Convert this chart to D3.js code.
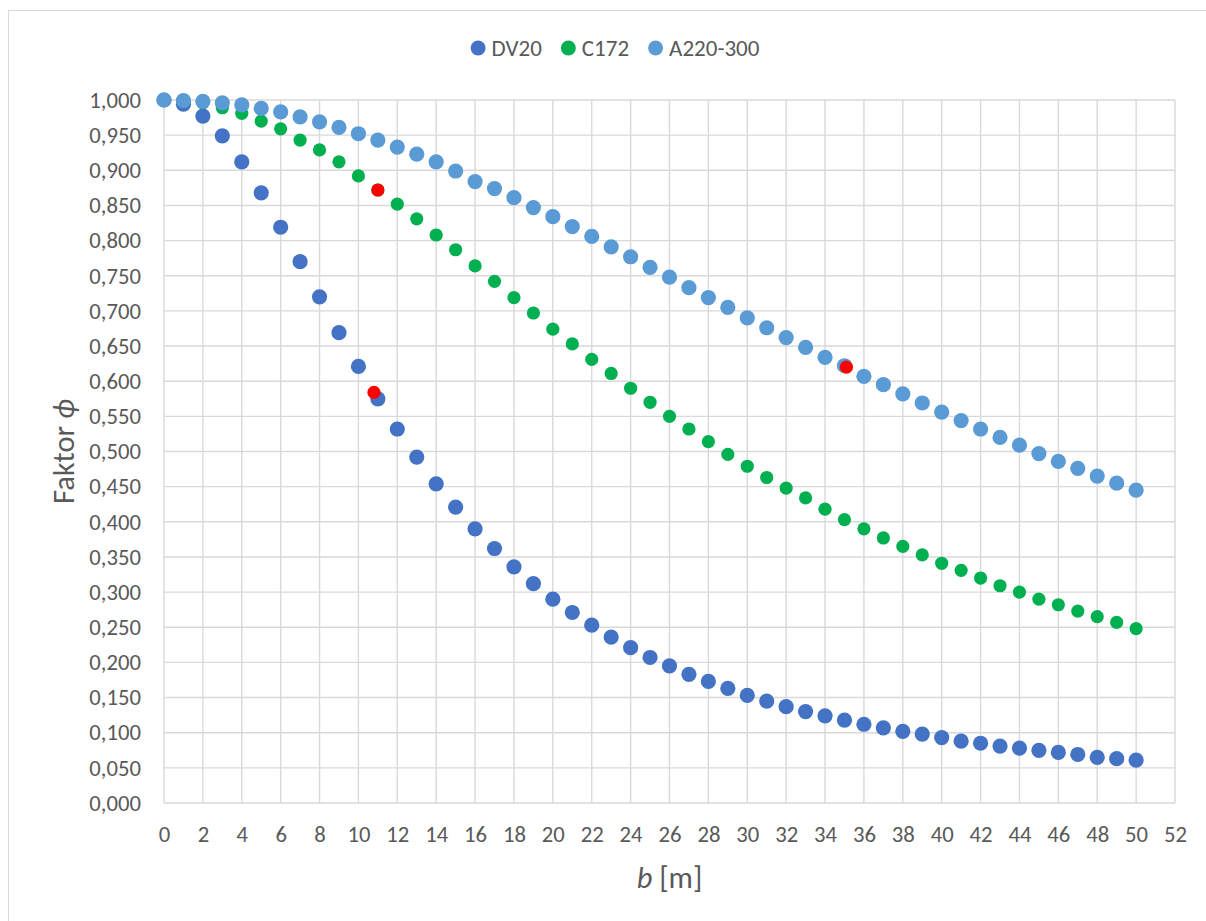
<!DOCTYPE html>
<html>
<head>
<meta charset="utf-8">
<script src="https://cdn.jsdelivr.net/npm/d3@7"></script>
<style>
  body { margin: 0; background: #fff; }
  svg text { font-family: Calibri, Carlito, "Liberation Sans", Arial, sans-serif; fill: #595959; }
</style>
</head>
<body>
<svg id="chart" width="1206" height="921"></svg>
<script>
// b [m] = 0..50 for all three series
const spans = d3.range(0, 51);

const dv20 = [
  1.000, 0.994, 0.977, 0.949, 0.912, 0.868, 0.819, 0.770, 0.720, 0.669,
  0.621, 0.575, 0.532, 0.492, 0.454, 0.421, 0.390, 0.362, 0.336, 0.312,
  0.290, 0.271, 0.253, 0.236, 0.221, 0.207, 0.195, 0.183, 0.173, 0.163,
  0.153, 0.145, 0.137, 0.130, 0.124, 0.118, 0.112, 0.107, 0.102, 0.098,
  0.093, 0.088, 0.085, 0.081, 0.078, 0.075, 0.072, 0.069, 0.065, 0.063,
  0.061
];

const c172 = [
  1.000, 0.998, 0.996, 0.989, 0.981, 0.970, 0.959, 0.943, 0.929, 0.912,
  0.892, 0.872, 0.852, 0.831, 0.808, 0.787, 0.764, 0.742, 0.719, 0.697,
  0.674, 0.653, 0.631, 0.611, 0.590, 0.570, 0.550, 0.532, 0.514, 0.496,
  0.479, 0.463, 0.448, 0.434, 0.418, 0.403, 0.390, 0.377, 0.365, 0.353,
  0.341, 0.331, 0.320, 0.309, 0.300, 0.290, 0.282, 0.273, 0.265, 0.257,
  0.248
];

const a220 = [
  1.000, 0.999, 0.998, 0.996, 0.993, 0.988, 0.983, 0.976, 0.969, 0.961,
  0.952, 0.943, 0.933, 0.923, 0.912, 0.899, 0.884, 0.874, 0.861, 0.847,
  0.834, 0.820, 0.806, 0.791, 0.777, 0.762, 0.748, 0.733, 0.719, 0.705,
  0.690, 0.676, 0.662, 0.648, 0.634, 0.622, 0.607, 0.595, 0.582, 0.569,
  0.556, 0.544, 0.532, 0.520, 0.509, 0.497, 0.486, 0.476, 0.465, 0.455,
  0.445
];

// red highlighted points (not in legend)
const markB   = [10.8, 11.0, 35.1];
const markPhi = [0.584, 0.872, 0.620];

const seriesNames  = ['DV20', 'C172', 'A220-300'];
const seriesColors = ['#4472C4', '#00B050', '#5B9BD5'];
const seriesRadius = [7.6, 6.6, 7.6];
const xTicks = d3.range(0, 53, 2);
const yTicks = d3.range(0, 21).map(i => i * 0.05);

const svg = d3.select('#chart');
const plot = { left: 164, right: 1175, top: 100, bottom: 803 };

// chart border
svg.append('rect')
  .attr('x', 8.5).attr('y', 10.5)
  .attr('width', 1300).attr('height', 1000)
  .attr('fill', 'none')
  .attr('stroke', '#D9D9D9');

const x = d3.scaleLinear().domain([0, 52]).range([plot.left, plot.right]);
const y = d3.scaleLinear().domain([0, 1]).range([plot.bottom, plot.top]);

// gridlines
svg.append('g')
  .selectAll('line.v')
  .data(xTicks)
  .enter().append('line')
  .attr('x1', d => x(d)).attr('x2', d => x(d))
  .attr('y1', plot.top).attr('y2', plot.bottom)
  .attr('stroke', '#D9D9D9').attr('stroke-width', 1.4);

svg.append('g')
  .selectAll('line.h')
  .data(yTicks)
  .enter().append('line')
  .attr('x1', plot.left).attr('x2', plot.right)
  .attr('y1', d => y(d)).attr('y2', d => y(d))
  .attr('stroke', '#D9D9D9').attr('stroke-width', 1.4);

// axes (labels only, Excel style)
const fmt = d => d3.format('.3f')(d).replace('.', ',');

const yAxis = svg.append('g')
  .attr('transform', `translate(${plot.left},0)`)
  .call(d3.axisLeft(y).tickValues(yTicks).tickFormat(fmt).tickSize(0).tickPadding(23));
yAxis.select('.domain').remove();
yAxis.selectAll('text').style('font-size', '22.7px');

const xAxis = svg.append('g')
  .attr('transform', `translate(0,${plot.bottom})`)
  .call(d3.axisBottom(x).tickValues(xTicks).tickFormat(d3.format('d')).tickSize(0).tickPadding(23));
xAxis.select('.domain').remove();
xAxis.selectAll('text').style('font-size', '22.7px');

// axis titles
svg.append('text')
  .attr('x', (plot.left + plot.right) / 2)
  .attr('y', 888)
  .attr('text-anchor', 'middle')
  .style('font-size', '30.5px')
  .html('<tspan font-style="italic">b</tspan> [m]');

svg.append('text')
  .attr('transform', `translate(74,${(plot.top + plot.bottom) / 2}) rotate(-90)`)
  .attr('text-anchor', 'middle')
  .style('font-size', '30.5px')
  .html('Faktor <tspan font-style="italic">\u03D5</tspan>');

// series
const allSeries = [dv20, c172, a220];
allSeries.forEach((vals, i) => {
  svg.append('g')
    .selectAll('circle')
    .data(vals)
    .enter().append('circle')
    .attr('cx', (d, j) => x(spans[j]))
    .attr('cy', d => y(d))
    .attr('r', seriesRadius[i])
    .attr('fill', seriesColors[i]);
});

svg.append('g')
  .selectAll('circle')
  .data(markPhi)
  .enter().append('circle')
  .attr('cx', (d, j) => x(markB[j]))
  .attr('cy', d => y(d))
  .attr('r', 6.6)
  .attr('fill', '#FF0000');

// legend
const legend = svg.append('g');
let lx = 0;
seriesNames.forEach((name, i) => {
  const item = legend.append('g').attr('transform', `translate(${lx},0)`);
  item.append('circle').attr('cx', 7.5).attr('cy', 0).attr('r', 7.5).attr('fill', seriesColors[i]);
  const t = item.append('text')
    .attr('x', 21).attr('y', 8)
    .style('font-size', '23px')
    .text(name);
  lx += 21 + t.node().getComputedTextLength() + 19;
});
const legendWidth = lx - 19;
legend.attr('transform', `translate(${615 - legendWidth / 2},48)`);
</script>
</body>
</html>
